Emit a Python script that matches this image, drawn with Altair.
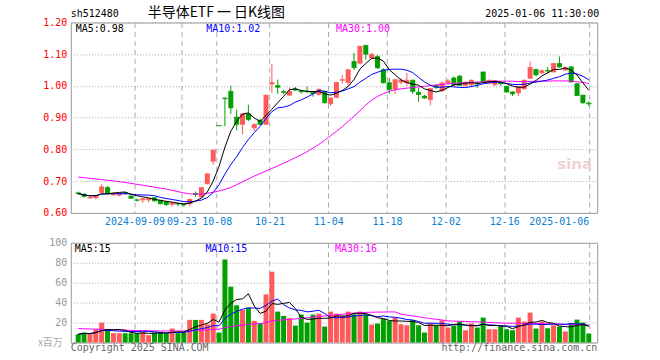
import altair as alt
import pandas as pd

# ---------------- data ----------------
idx = list(range(88))
open_ = [0.663,0.659,0.647,0.648,0.664,0.680,0.657,0.656,0.663,0.653,
 0.641,0.641,0.641,0.648,0.640,0.635,0.627,0.630,0.628,0.629,
 0.661,0.650,0.692,0.763,0.875,0.962,0.983,0.902,0.879,0.912,
 0.868,0.892,0.879,1.006,1.001,0.982,0.971,0.990,0.985,0.984,
 0.980,0.973,0.983,0.944,0.964,1.018,1.011,1.077,1.072,1.128,
 1.088,1.093,1.051,1.010,0.990,1.012,1.010,1.018,0.980,0.968,
 0.957,1.002,0.985,1.010,1.025,1.031,1.002,1.004,1.008,1.044,
 1.010,1.004,1.009,0.999,0.981,0.978,0.991,1.024,1.052,1.041,
 1.049,1.044,1.071,1.050,1.060,1.007,0.971,0.946]
close = [0.661,0.652,0.649,0.655,0.682,0.662,0.663,0.661,0.661,0.646,
 0.640,0.645,0.645,0.638,0.629,0.626,0.632,0.628,0.626,0.643,
 0.658,0.680,0.723,0.798,0.875,0.960,0.931,0.879,0.912,0.894,
 0.879,0.879,0.971,1.011,0.996,0.980,0.983,0.987,0.982,0.982,
 0.976,0.989,0.947,0.962,1.011,1.020,1.051,1.058,1.125,1.100,
 1.100,1.057,1.010,0.989,1.020,1.018,1.018,0.983,0.973,0.962,
 0.992,0.996,1.009,1.016,1.004,1.002,1.012,1.018,1.006,1.013,
 1.018,1.017,1.007,0.981,0.975,0.999,1.018,1.058,1.035,1.048,
 1.047,1.071,1.060,1.058,1.013,0.970,0.947,0.944]
high = [0.667,0.661,0.652,0.657,0.690,0.685,0.665,0.663,0.666,0.655,
 0.645,0.647,0.647,0.649,0.641,0.637,0.633,0.633,0.630,0.645,
 0.667,0.681,0.726,0.798,0.876,0.963,1.001,0.926,0.914,0.941,
 0.882,0.895,0.972,1.069,1.020,0.988,0.995,0.997,0.988,0.998,
 0.983,0.992,0.985,0.964,1.013,1.034,1.053,1.104,1.127,1.129,
 1.104,1.098,1.056,1.025,1.021,1.025,1.041,1.020,0.994,0.972,
 0.994,1.005,1.014,1.022,1.030,1.034,1.014,1.020,1.015,1.045,
 1.020,1.018,1.013,1.000,0.984,1.000,1.020,1.077,1.055,1.052,
 1.060,1.072,1.093,1.062,1.063,1.009,0.972,0.952]
low = [0.657,0.648,0.644,0.643,0.662,0.658,0.654,0.652,0.657,0.644,
 0.636,0.632,0.633,0.636,0.627,0.622,0.620,0.621,0.619,0.620,
 0.650,0.648,0.690,0.751,0.875,0.873,0.912,0.860,0.847,0.890,
 0.858,0.878,0.877,0.978,0.975,0.975,0.969,0.984,0.975,0.978,
 0.966,0.970,0.945,0.938,0.962,1.007,1.002,1.050,1.068,1.083,
 1.085,1.055,1.008,0.975,0.975,1.005,1.000,0.975,0.950,0.960,
 0.939,0.990,0.980,1.004,1.000,1.000,0.998,0.995,0.994,1.012,
 1.007,0.999,1.000,0.978,0.968,0.968,0.989,1.022,1.031,1.039,
 1.040,1.043,1.058,1.048,1.010,0.968,0.944,0.937]
vol = [8.3,10,8.3,13.3,20,13.3,9.3,9.3,9.3,9.3,
 9.3,10.7,7.3,10,10.7,9.3,14,9.3,10,22.7,
 22.7,22.7,18.3,29,10,83.3,56,37.3,32.7,35,
 21.7,19.3,48.3,71,31,26.7,24.3,17,28,20,
 28,29,16,31,29,27,31,28.3,31,28,
 18,19,24,21.7,25,18.3,17.3,22.7,17.3,10,
 19.3,17.3,22.3,15,16.7,21,12.3,19.3,15,25,
 13.3,13.3,16.7,13.3,12.3,25,21,30,14,21,
 14.3,17.3,16,11,19.3,23,20,9]
ma30 = [0.713,0.711,0.709,0.707,0.705,0.703,0.701,0.698,0.696,0.693,
 0.690,0.687,0.684,0.681,0.678,0.675,0.671,0.667,0.663,0.660,
 0.659,0.660,0.662,0.665,0.669,0.674,0.680,0.689,0.698,0.707,
 0.716,0.724,0.732,0.740,0.748,0.757,0.765,0.774,0.783,0.793,
 0.804,0.816,0.829,0.843,0.857,0.872,0.888,0.905,0.922,0.940,
 0.955,0.967,0.976,0.983,0.988,0.991,0.993,0.995,0.997,0.999,
 1.001,1.003,1.005,1.007,1.008,1.009,1.010,1.011,1.012,1.013,
 1.014,1.015,1.015,1.015,1.015,1.014,1.014,1.014,1.015,1.015,
 1.015,1.016,1.016,1.016,1.015,1.013,1.011,1.008]
vma30 = [14.0,13.8,13.6,13.4,13.2,13.0,12.8,12.6,12.4,12.2,
 12.0,11.9,11.8,11.7,11.6,11.6,11.6,11.6,11.6,11.8,
 12.1,12.4,12.7,13.0,13.3,14.9,16.0,16.8,17.5,18.2,
 18.6,19.0,20.0,21.7,22.3,22.8,23.2,23.6,24.2,24.8,
 25.4,26.0,26.6,27.2,27.8,28.4,29.0,29.5,30.0,30.2,
 30.4,30.5,30.6,30.7,30.7,28.5,27.5,26.7,25.8,24.8,
 24.0,23.3,22.6,21.7,21.5,21.3,21.1,20.9,20.7,20.5,
 20.2,19.9,19.6,19.4,19.3,19.3,19.2,19.2,19.1,19.0,
 18.8,18.6,18.4,18.2,18.0,17.8,17.6,17.4]
tick_idx = [10, 18, 24, 33, 43, 53, 63, 73, 87]
tick_lbl = ['2024-09-09', '09-23', '10-08', '10-21', '11-04', '11-18', '12-02', '12-16', '2025-01-06']
price_ticks = [0.6, 0.7, 0.8, 0.9, 1.0, 1.1, 1.2]
vol_ticks = [0, 20, 40, 60, 80, 100]

df = pd.DataFrame(dict(i=idx, open=open_, high=high, low=low, close=close,
                       vol=vol, ma30=ma30, vma30=vma30))
df['dir'] = ['up' if c > o else 'down' for o, c in zip(open_, close)]

# ---------------- styling ----------------
MONO = 'DejaVu Sans Mono'
RED = '#ff5a5a'
GREEN = '#00a000'
W, HP, HV = 528, 191, 100
color = alt.Color('dir:N', scale=alt.Scale(domain=['up', 'down'], range=[RED, GREEN]), legend=None)
xscale = alt.Scale(domain=[-0.4167, 87.5833], nice=False, zero=False)

tick_pos = [t - 0.4 for t in tick_idx[:-1]] + [tick_idx[-1]]
expr = ''
for k in range(len(tick_idx) - 1):
    mid = (tick_idx[k] + tick_idx[k + 1]) / 2
    expr += f"datum.value < {mid} ? '{tick_lbl[k]}' : "
expr += f"'{tick_lbl[-1]}'"

xaxis_p = alt.Axis(values=tick_pos, labelExpr=expr, grid=True, gridDash=[5, 4], gridColor='#aaaaaa',
                   ticks=False, domain=False, labelColor='#0a7fd0', labelFont=MONO, labelFontSize=10,
                   labelPadding=4, labelOverlap=False, title=None,
                   labelAlign={"condition": {"test": "datum.value > 80", "value": "right"}, "value": "center"},
                   labelBound=False)
xaxis_v = alt.Axis(values=tick_pos, labels=False, grid=True, gridDash=[5, 4], gridColor='#aaaaaa',
                   ticks=False, domain=False, title=None)
yaxis_p = alt.Axis(values=price_ticks, format='.2f', grid=True, gridDash=[1, 2], gridColor='#aaaaaa',
                   ticks=False, domain=False, labelColor='#ff0000', labelFont=MONO, labelFontSize=10,
                   labelPadding=4, title=None)
yaxis_v = alt.Axis(values=vol_ticks, labelExpr="datum.value == 0 ? '' : datum.label", grid=True,
                   gridDash=[1, 2], gridColor='#aaaaaa', ticks=False, domain=False,
                   labelColor='#999999', labelFont=MONO, labelFontSize=10, labelPadding=4, title=None)
yscale_p = alt.Scale(domain=[0.6, 1.2], nice=False, zero=False)
yscale_v = alt.Scale(domain=[0, 100], nice=False)


def X(ax):
    return alt.X('i:Q', scale=xscale, axis=ax)


def YP(f):
    return alt.Y(f, scale=yscale_p, axis=yaxis_p)


def YV(f):
    return alt.Y(f, scale=yscale_v, axis=yaxis_v)


def txt(s, x, y, col='black', align='left', size=10, font=MONO, weight='normal'):
    return alt.Chart(pd.DataFrame({'t': [s]})).mark_text(
        align=align, baseline='middle', font=font, fontSize=size, color=col, fontWeight=weight
    ).encode(text='t:N', x=alt.value(x), y=alt.value(y))


def marker(y):
    return alt.Chart(pd.DataFrame({'a': [0]})).mark_rule(opacity=0).encode(
        x=alt.value(-70), x2=alt.value(590), y=alt.value(y))


base = alt.Chart(df)

# ---------------- price panel ----------------
wick = base.mark_rule(strokeWidth=1).encode(x=X(xaxis_p), y=YP('low:Q'), y2='high:Q', color=color)
body = base.mark_bar(size=5, orient='vertical').encode(x=X(xaxis_p), y=YP('open:Q'), y2='close:Q', color=color)
tick_o = base.mark_tick(size=5, thickness=1, orient='horizontal').encode(x=X(xaxis_p), y=YP('open:Q'), color=color)
tick_c = base.mark_tick(size=5, thickness=1, orient='horizontal').encode(x=X(xaxis_p), y=YP('close:Q'), color=color)
ma5_l = base.transform_window(ma5='mean(close)', frame=[-4, 0], sort=[alt.SortField('i')]).mark_line(
    color='black', strokeWidth=1).encode(x=X(xaxis_p), y=YP('ma5:Q'))
ma10_l = base.transform_window(ma10='mean(close)', frame=[-9, 0], sort=[alt.SortField('i')]).mark_line(
    color='#0000ff', strokeWidth=1).encode(x=X(xaxis_p), y=YP('ma10:Q'))
ma30_l = base.mark_line(color='#ff00ff', strokeWidth=1).encode(x=X(xaxis_p), y=YP('ma30:Q'))

price = alt.layer(
    wick, body, tick_o, tick_c, ma30_l, ma10_l, ma5_l,
    txt('MA5:0.98', 5, 7),
    txt('MA10:1.02', 136, 7, '#0000ff'),
    txt('MA30:1.00', 266, 7, '#ff00ff'),
    txt('sh512480', 0, -9),
    txt('半导体ETF 一 日K线图', 146, -9, align='center', size=14, font='Noto Sans CJK SC'),
    txt('2025-01-06 11:30:00', 530, -9, align='right'),
    txt('sina', 488, 142, '#f0d0d0', size=15, font='DejaVu Sans', weight='bold'),
    marker(-21), marker(209),
).properties(width=W, height=HP)

# ---------------- volume panel ----------------
vbar = base.mark_bar(size=5).encode(x=X(xaxis_v), y=YV('vol:Q'), color=color)
vma5 = base.transform_window(m5='mean(vol)', frame=[-4, 0], sort=[alt.SortField('i')]).mark_line(
    color='black', strokeWidth=1).encode(x=X(xaxis_v), y=YV('m5:Q'))
vma10 = base.transform_window(m10='mean(vol)', frame=[-9, 0], sort=[alt.SortField('i')]).mark_line(
    color='#0000ff', strokeWidth=1).encode(x=X(xaxis_v), y=YV('m10:Q'))
vma30_l = base.mark_line(color='#ff00ff', strokeWidth=1).encode(x=X(xaxis_v), y=YV('vma30:Q'))

volume = alt.layer(
    vbar, vma30_l, vma10, vma5,
    txt('MA5:15', 4, 6),
    txt('MA10:15', 135, 6, '#0000ff'),
    txt('MA30:16', 265, 6, '#ff00ff'),
    txt('x百万', -33, 100, '#aaaaaa', size=10, font='Noto Sans CJK SC'),
    txt('Copyright 2025 SINA.COM', 0, 106, '#666666'),
    txt('http://finance.sina.com.cn', 528, 106, '#666666', align='right'),
    marker(-10), marker(120),
).properties(width=W, height=HV)

chart = alt.VConcatChart(vconcat=[price, volume], spacing=0, padding=0,
                         autosize=alt.AutoSizeParams(type='pad'), background='white') \
    .configure_view(stroke='#999999', strokeWidth=1)

chart.save('out.html', embed_options={'renderer': 'svg', 'actions': False})
